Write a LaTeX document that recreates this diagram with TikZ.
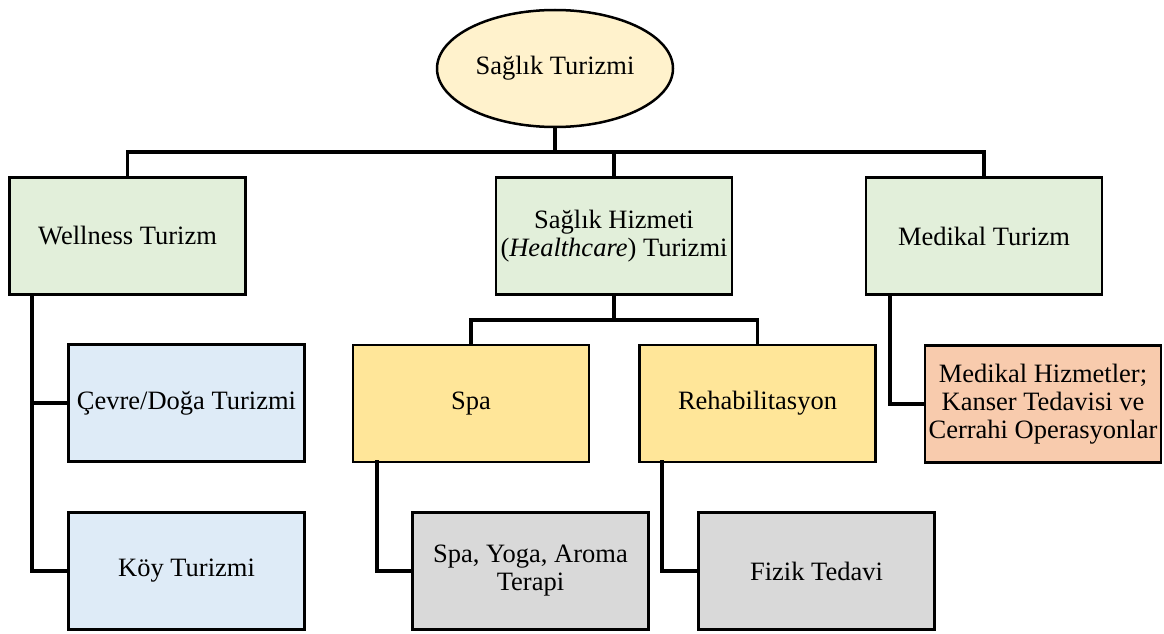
\documentclass[tikz,border=0pt]{standalone}
\usepackage{fontspec}
\setmainfont{Liberation Serif}
\usetikzlibrary{shapes.geometric}
\definecolor{rootfill}{HTML}{FFF2CC}
\definecolor{greenfill}{HTML}{E2EFDA}
\definecolor{bluefill}{HTML}{DEEBF7}
\definecolor{yellowfill}{HTML}{FFE699}
\definecolor{grayfill}{HTML}{D9D9D9}
\definecolor{peachfill}{HTML}{F8CBAD}
\tikzset{
  label font/.style={font=\fontsize{26.5}{28}\selectfont},
  box/.style={draw=black, line width=2.5pt, rectangle, minimum width=236pt,
    minimum height=117pt, inner sep=1pt, align=center, label font},
  link/.style={draw=black, line width=3.8pt, line cap=rect},
}
\begin{document}
\begin{tikzpicture}[x=1pt,y=-1pt]
\useasboundingbox (0,0) rectangle (1164,634);

% top node
\node[ellipse, draw=black, line width=2.5pt, fill=rootfill, minimum width=236pt,
  minimum height=117pt, inner sep=0pt, label font]
  (root) at (555,68.5) {Sağlık Turizmi};

% first level
\node[box, fill=greenfill] (well) at (127.5,236) {Wellness Turizm};
\node[box, fill=greenfill] (hizm) at (614,236) {Sağlık Hizmeti\\(\textit{Healthcare}) Turizmi};
\node[box, fill=greenfill] (med)  at (984,236) {Medikal Turizm};

% second level
\node[box, fill=bluefill]   (cevre) at (186.5,403) {Çevre/Doğa Turizmi};
\node[box, fill=yellowfill] (spa)   at (471,403.5) {Spa};
\node[box, fill=yellowfill] (rehab) at (757.5,403.5) {Rehabilitasyon};
\node[box, fill=peachfill]  (medh)  at (1043,404) {Medikal Hizmetler;\\Kanser Tedavisi ve\\Cerrahi Operasyonlar};

% third level
\node[box, fill=bluefill] (koy)     at (186.5,571) {Köy Turizmi};
\node[box, fill=grayfill] (spayoga) at (530.5,571) {Spa, Yoga, Aroma\\Terapi};
\node[box, fill=grayfill] (fizik)   at (816.5,571) {Fizik Tedavi};

% bus heights and side stems
\coordinate (bus1) at (0,152);
\coordinate (bus2) at (0,320);
\coordinate (wstem) at (32,295);
\coordinate (sstem) at (377,462);
\coordinate (rstem) at (662,462);
\coordinate (mstem) at (890,295);

\draw[link] (root.south) -- (root.south |- bus1);
\draw[link] (well.north) -- (well.north |- bus1) -| (med.north);
\draw[link] (hizm.north) -- (hizm.north |- bus1);

\draw[link] (hizm.south) -- (hizm.south |- bus2);
\draw[link] (spa.north) -- (spa.north |- bus2) -| (rehab.north);

\draw[link] (wstem) |- (koy.west);
\draw[link] (wstem |- cevre.west) -- (cevre.west);
\draw[link] (sstem) |- (spayoga.west);
\draw[link] (rstem) |- (fizik.west);
\draw[link] (mstem) |- (medh.west);
\end{tikzpicture}
\end{document}
